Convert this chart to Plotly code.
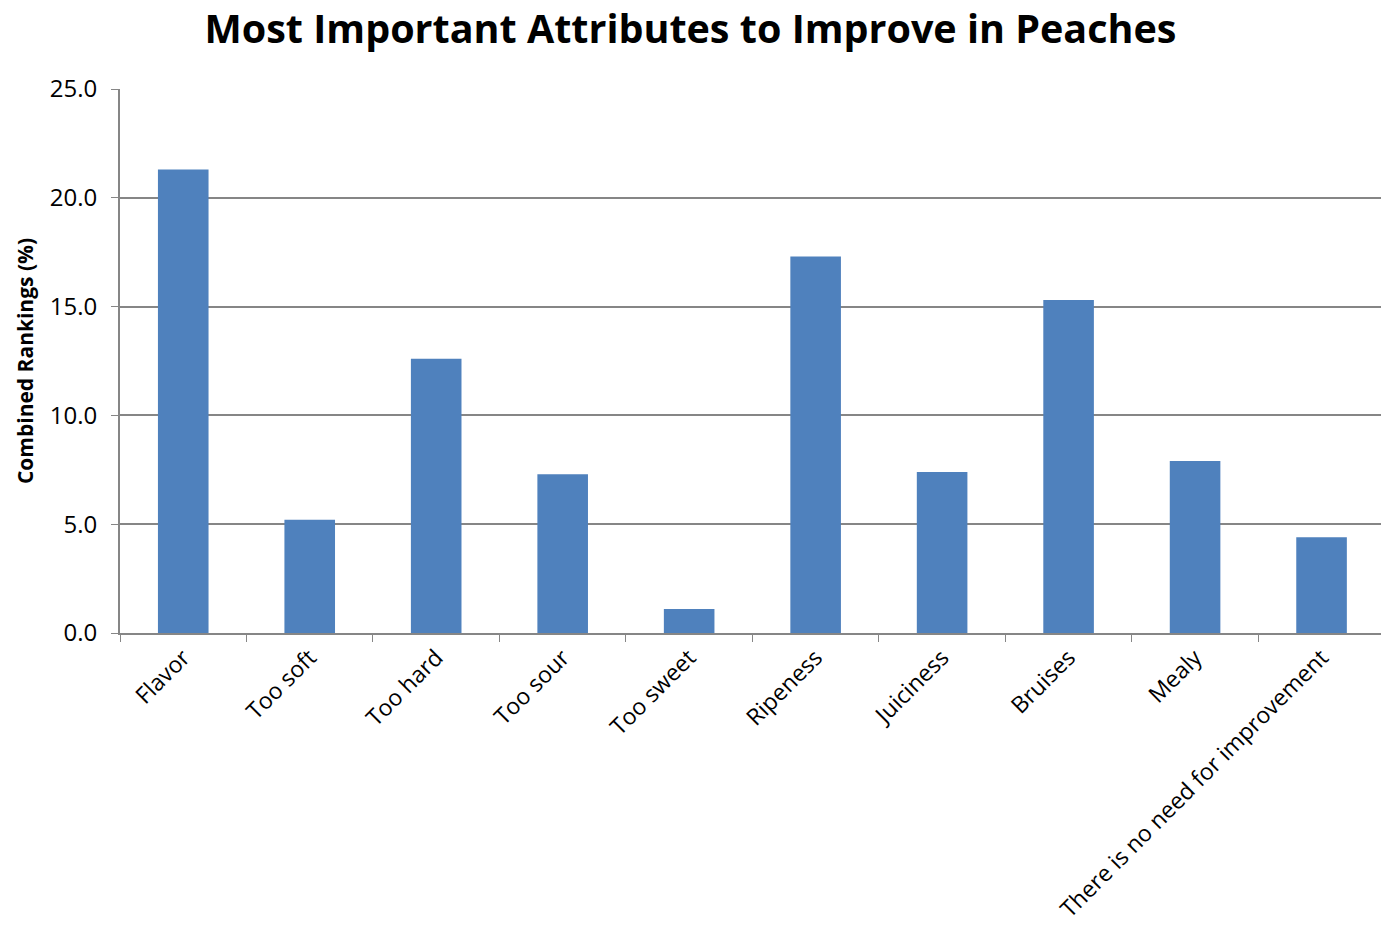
import plotly.graph_objects as go

categories = ["Flavor", "Too soft", "Too hard", "Too sour", "Too sweet",
              "Ripeness", "Juiciness", "Bruises", "Mealy",
              "There is no need for improvement"]
rankings = [21.3, 5.2, 12.6, 7.3, 1.1, 17.3, 7.4, 15.3, 7.9, 4.4]
y_ticks = [0, 5, 10, 15, 20, 25]

fig = go.Figure(go.Bar(x=categories, y=rankings, marker=dict(color="#4F81BD", line=dict(width=0))))

fig.update_layout(
    width=1381, height=927,
    margin=dict(l=120, r=0, t=89, b=294),
    paper_bgcolor="white", plot_bgcolor="white",
    bargap=0.6,
    showlegend=False,
    font=dict(family="Open Sans", color="black"),
    title=dict(text="<b>Most Important Attributes to Improve in Peaches</b>",
               x=0.5, xanchor="center", y=0.968, yanchor="middle",
               font=dict(size=39.5, family="Open Sans", color="black")),
)
fig.update_xaxes(
    range=[-0.5, 9.47], tickangle=-45, tickson="boundaries",
    ticks="outside", ticklen=7, tickcolor="#868686",
    showline=True, linecolor="#868686", linewidth=2,
    tickfont=dict(size=23, family="Open Sans"), showgrid=False,
)
fig.update_yaxes(
    range=[0, 25], tickvals=y_ticks, tickformat=".1f",
    ticks="outside", ticklen=7, tickcolor="#868686",
    showline=True, linecolor="#868686", linewidth=2,
    showgrid=True, gridcolor="#868686", gridwidth=1.5, zeroline=False,
    tickfont=dict(size=24, family="Open Sans"), ticklabelstandoff=9,
    title=dict(text="<b>Combined Rankings (%)</b>", standoff=10,
               font=dict(size=21, family="Open Sans")),
)

fig.write_html("out.html")
